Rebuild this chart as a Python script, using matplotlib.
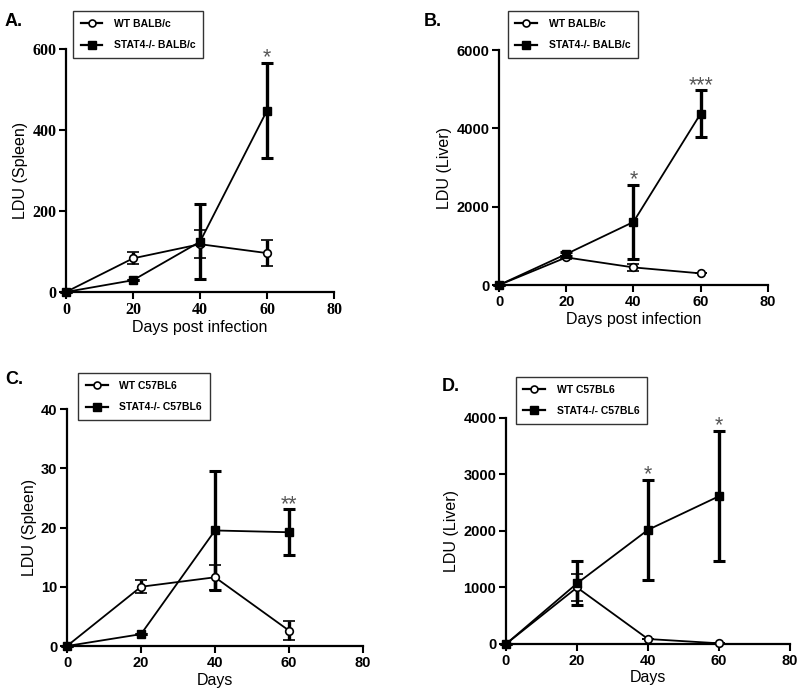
import matplotlib
matplotlib.use("Agg")
import matplotlib.pyplot as plt
from matplotlib.lines import Line2D

plt.rcParams['font.family'] = ['Liberation Sans', 'DejaVu Sans']

days = [0, 20, 40, 60]

# Panel A: spleen, BALB/c
a_wt = [0, 83, 118, 96]
a_wt_err = [0, 15, 34, 33]
a_ko = [0, 29, 124, 448]
a_ko_err = [0, 0, 93, 118]

# Panel B: liver, BALB/c
b_wt = [0, 705, 450, 297]
b_wt_err = [0, 40, 90, 0]
b_ko = [0, 790, 1610, 4375]
b_ko_err = [0, 50, 955, 595]

# Panel C: spleen, C57BL6
c_wt = [0, 10.0, 11.6, 2.6]
c_wt_err = [0, 1.1, 2.1, 1.6]
c_ko = [0, 2.0, 19.5, 19.2]
c_ko_err = [0, 0, 10.0, 3.9]

# Panel D: liver, C57BL6
d_wt = [0, 1000, 88, 12]
d_wt_err = [0, 240, 0, 0]
d_ko = [0, 1072, 2020, 2615]
d_ko_err = [0, 390, 890, 1150]

x_ticks = [0, 20, 40, 60, 80]
a_yticks = [0, 200, 400, 600]
b_yticks = [0, 2000, 4000, 6000]
c_yticks = [0, 10, 20, 30, 40]
d_yticks = [0, 1000, 2000, 3000, 4000]

fig = plt.figure(figsize=(8, 6.95), dpi=100)

panels = [
    dict(rect=[0.0825, 0.5799, 0.335, 0.3496], wt=a_wt, wte=a_wt_err, ko=a_ko, koe=a_ko_err,
         yt=a_yticks, ylabel='LDU (Spleen)', xlabel='Days post infection', letter='A.',
         letter_xy=(0.006, 0.962), labels=['WT BALB/c', 'STAT4-/- BALB/c'],
         leg_xy=(0.091, 0.984), stars={60: '*'}, serif=True),
    dict(rect=[0.62375, 0.5899, 0.336, 0.338], wt=b_wt, wte=b_wt_err, ko=b_ko, koe=b_ko_err,
         yt=b_yticks, ylabel='LDU (Liver)', xlabel='Days post infection', letter='B.',
         letter_xy=(0.530, 0.962), labels=['WT BALB/c', 'STAT4-/- BALB/c'],
         leg_xy=(0.6346, 0.984), stars={40: '*', 60: '***'}, serif=False),
    dict(rect=[0.08375, 0.0705, 0.37, 0.341], wt=c_wt, wte=c_wt_err, ko=c_ko, koe=c_ko_err,
         yt=c_yticks, ylabel='LDU (Spleen)', xlabel='Days', letter='C.',
         letter_xy=(0.006, 0.447), labels=['WT C57BL6', 'STAT4-/- C57BL6'],
         leg_xy=(0.0975, 0.463), stars={60: '**'}, serif=False),
    dict(rect=[0.6325, 0.0734, 0.355, 0.3252], wt=d_wt, wte=d_wt_err, ko=d_ko, koe=d_ko_err,
         yt=d_yticks, ylabel='LDU (Liver)', xlabel='Days', letter='D.',
         letter_xy=(0.552, 0.438), labels=['WT C57BL6', 'STAT4-/- C57BL6'],
         leg_xy=(0.6446, 0.458), stars={40: '*', 60: '*'}, serif=False),
]

for p in panels:
    ax = fig.add_axes(p['rect'])
    ek = dict(ecolor='black', elinewidth=2.4, capsize=4, capthick=2.2, clip_on=False, zorder=3)
    ax.errorbar(days, p['wt'], yerr=p['wte'], color='black', lw=1.3, marker='o', ms=5.5,
                mfc='white', mec='black', mew=1.2, **ek)
    ax.errorbar(days, p['ko'], yerr=p['koe'], color='black', lw=1.3, marker='s', ms=6,
                mfc='black', mec='black', **ek)
    ax.set_xlim(0, 80)
    ax.set_ylim(0, p['yt'][-1])
    ax.set_xticks(x_ticks)
    ax.set_yticks(p['yt'])
    for s in ['top', 'right']:
        ax.spines[s].set_visible(False)
    for s in ['left', 'bottom']:
        ax.spines[s].set_linewidth(1.6)
    ax.tick_params(direction='out', length=5, width=1.5, pad=2)
    tfam = ['Liberation Serif', 'DejaVu Serif'] if p['serif'] else ['Liberation Sans', 'DejaVu Sans']
    tsize = 11.5 if p['serif'] else 10.5
    for lab in ax.get_xticklabels() + ax.get_yticklabels():
        lab.set_family(tfam)
        lab.set_fontweight('bold')
        lab.set_fontsize(tsize)
    ax.set_xlabel(p['xlabel'], fontsize=11.5, labelpad=2)
    ax.set_ylabel(p['ylabel'], fontsize=11.5, labelpad=3)
    top = p['yt'][-1]
    for xd, st in p['stars'].items():
        i = days.index(xd)
        yv = p['ko'][i] + p['koe'][i]
        ax.text(xd, yv - 0.024 * top, st, ha='center', va='bottom', fontsize=15.5,
                color='#555555', clip_on=False)
    fig.text(p['letter_xy'][0], p['letter_xy'][1], p['letter'], fontsize=13, fontweight='bold')
    handles = [
        Line2D([], [], color='black', lw=1.6, marker='o', ms=5, mfc='white', mec='black', mew=1.2),
        Line2D([], [], color='black', lw=1.6, marker='s', ms=5.5, mfc='black', mec='black'),
    ]
    leg = fig.legend(handles, p['labels'], loc='upper left', bbox_to_anchor=p['leg_xy'],
                     bbox_transform=fig.transFigure, borderaxespad=0, frameon=True,
                     fancybox=False, edgecolor='black', handlelength=2.1, handletextpad=1.1,
                     borderpad=0.75, labelspacing=1.1, prop=dict(size=7.5, weight='bold'))
    leg.get_frame().set_linewidth(1.0)

fig.savefig('out.png', dpi=100)
